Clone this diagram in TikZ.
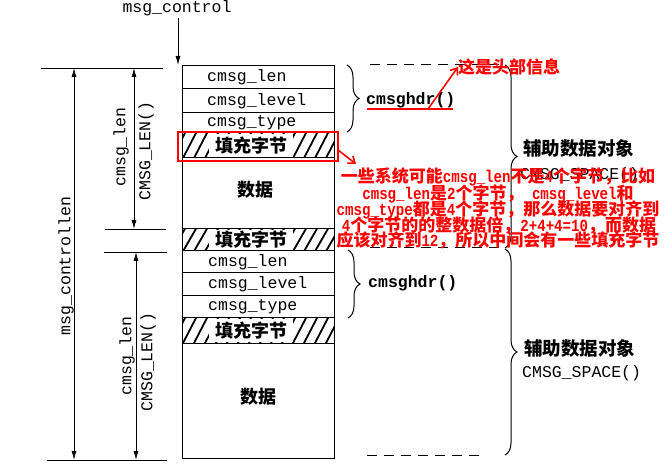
\documentclass[tikz,border=0pt]{standalone}
\usepackage{fontspec}
\setmainfont{Liberation Serif}
\newfontfamily\mono{Liberation Mono}
\newfontfamily\cjk{Noto Sans CJK SC}
\newfontfamily\redmono{Liberation Mono}[FakeStretch=0.83]
\newcommand{\lat}[1]{{\redmono\bfseries\fontsize{17}{17}\selectfont #1}}
\usetikzlibrary{arrows.meta,decorations.pathreplacing}
\tikzset{
  mtext/.style={font=\mono\fontsize{16.5}{18}\selectfont, inner sep=0pt},
  mbold/.style={font=\mono\bfseries\fontsize{16.5}{18}\selectfont, inner sep=0pt},
  cjkb/.style={font=\cjk\bfseries\fontsize{18}{20}\selectfont, inner sep=0pt},
  redtxt/.style={text=red, font=\cjk\bfseries\fontsize{17}{17}\selectfont, inner sep=0pt},
  dimline/.style={line width=0.8pt},
  dimarrow/.style={line width=0.8pt, {Latex[length=9pt,width=5pt]}-{Latex[length=9pt,width=5pt]}},
  rowbox/.style={draw, line width=1pt},
  hatchline/.style={line width=1.8pt},
  padlabel/.style={cjkb, fill=white, inner xsep=6pt, inner ysep=0pt},
  bigbrace/.style={decorate, decoration={brace, amplitude=12pt}, line width=1pt},
  dashline/.style={line width=1pt, dash pattern=on 10pt off 7pt},
  redline/.style={red, line width=2pt},
  redarrow/.style={red, line width=1.6pt, -{Straight Barb[length=6pt,width=9pt]}},
}
\newcommand{\padrow}[3]{%
  \begin{scope}
    \clip (182,#1) rectangle (334,#2);
    \foreach \xx in {160,171,...,340} {
      \draw[hatchline] (\xx,#2+2) -- (\xx+15,#1-2);
    }
  \end{scope}
  \draw[rowbox] (182,#1) rectangle (334,#2);
  \node[padlabel, minimum height=#2-#1-2pt] (#3) at (251,{(#1+#2)/2}) {填充字节};
}
\begin{document}
\begin{tikzpicture}[x=1pt,y=-1pt]
\useasboundingbox[fill=white] (0,0) rectangle (665,468);

% ---------- top label ----------
\node[mtext] (mc) at (177,8) {msg\_control};
\coordinate (mcend) at (178,65);
\draw[line width=0.8pt, -{Latex[length=9pt,width=5pt]}] (178,18) -- (mcend);

% ---------- box rows ----------
\draw[rowbox] (182,66) rectangle (334,89);
\draw[rowbox] (182,89) rectangle (334,113);
\draw[rowbox] (182,113) rectangle (334,133);
\node[mtext, anchor=west] (l1) at (207,77.5) {cmsg\_len};
\node[mtext, anchor=west] (v1) at (207,101) {cmsg\_level};
\node[mtext, anchor=west] (t1) at (207,123) {cmsg\_type};
\padrow{133}{158}{p1}
\draw[rowbox] (182,158) rectangle (334,229);
\node[cjkb] (d1) at (255,190) {数据};
\padrow{229}{251}{p2}
\draw[rowbox] (182,251) rectangle (334,273);
\draw[rowbox] (182,273) rectangle (334,296);
\draw[rowbox] (182,296) rectangle (334,318);
\node[mtext, anchor=west] (l2) at (208,262) {cmsg\_len};
\node[mtext, anchor=west] (v2) at (208,284.5) {cmsg\_level};
\node[mtext, anchor=west] (t2) at (208,307) {cmsg\_type};
\padrow{318}{343}{p3}
\draw[rowbox] (182,343) rectangle (334,458);
\node[cjkb] (d2) at (258,397) {数据};

% ---------- dimension lines ----------
\coordinate (h1a) at (41,68);   \coordinate (h1b) at (163,68);
\coordinate (h2a) at (105,229); \coordinate (h2b) at (166,229);
\coordinate (h3a) at (104,252); \coordinate (h3b) at (167,252);
\coordinate (h4a) at (47,460);  \coordinate (h4b) at (167,460);
\draw[dimline] (h1a) -- (h1b);
\draw[dimline] (h2a) -- (h2b);
\draw[dimline] (h3a) -- (h3b);
\draw[dimline] (h4a) -- (h4b);
\coordinate (mlt) at (74,68);  \coordinate (mlb) at (74,460);
\coordinate (c1t) at (134,68); \coordinate (c1b) at (134,229);
\coordinate (c2t) at (136,252); \coordinate (c2b) at (136,460);
\draw[dimarrow] (mlt) -- (mlb);
\draw[dimarrow] (c1t) -- (c1b);
\draw[dimarrow] (c2t) -- (c2b);
\node[mtext, rotate=90] (mcl) at (66,266) {msg\_controllen};
\node[mtext, rotate=90] (cl1) at (121,147) {cmsg\_len};
\node[mtext, rotate=90] (cL1) at (146,151) {CMSG\_LEN()};
\node[mtext, rotate=90] (cl2) at (127,356) {cmsg\_len};
\node[mtext, rotate=90] (cL2) at (148,362) {CMSG\_LEN()};

% ---------- braces ----------
\draw[bigbrace] (347,65) -- (347,132);
\draw[bigbrace] (348,250) -- (348,318);
\node[mbold, anchor=west] (h1) at (366,100) {cmsghdr()};
\node[mbold, anchor=west] (h2) at (368,283) {cmsghdr()};
\draw[dashline] (370,65) -- (500,65);
\draw[dashline] (370,248) -- (500,248);
\draw[dashline] (367,455) -- (480,455);
\draw[bigbrace] (505,65) -- (505,248);
\draw[bigbrace] (505,249) -- (505,455);
\node[cjkb, font=\cjk\bfseries\fontsize{18.5}{20}\selectfont, anchor=west] (o1) at (523,148) {辅助数据对象};
\node[mtext, anchor=west] (s1) at (520,175) {CMSG\_SPACE()};
\node[cjkb, font=\cjk\bfseries\fontsize{18.5}{20}\selectfont, anchor=west] (o2) at (524,348) {辅助数据对象};
\node[mtext, anchor=west] (s2) at (522,373) {CMSG\_SPACE()};

% ---------- red annotations ----------
\draw[redline] (178,132) rectangle (338,161);
\coordinate (ra1) at (338,150); \coordinate (ra2) at (356,164);
\draw[redarrow] (ra1) -- (ra2);
\draw[redline] (367,109) -- (453,109);
\node[redtxt, anchor=west] (hd) at (458,67) {这是头部信息};
\coordinate (rb1) at (428,109);
\draw[redarrow] (rb1) -- (hd.west);
\node[redtxt] (n1) at (498,177) {一些系统可能\lat{cmsg\_len}不是\lat{4}个字节，比如};
\node[redtxt] (n2) at (498,194) {\lat{cmsg\_len}是\lat{2}个字节，\lat{ cmsg\_level}和};
\node[redtxt] (n3) at (498,210) {\lat{cmsg\_type}都是\lat{4}个字节，那么数据要对齐到};
\node[redtxt] (n4) at (499,225) {\lat{4}个字节的的整数据倍，\lat{2+4+4=10}，而数据};
\node[redtxt] (n5) at (498,240) {应该对齐到\lat{12}，所以中间会有一些填充字节};
\end{tikzpicture}
\end{document}
